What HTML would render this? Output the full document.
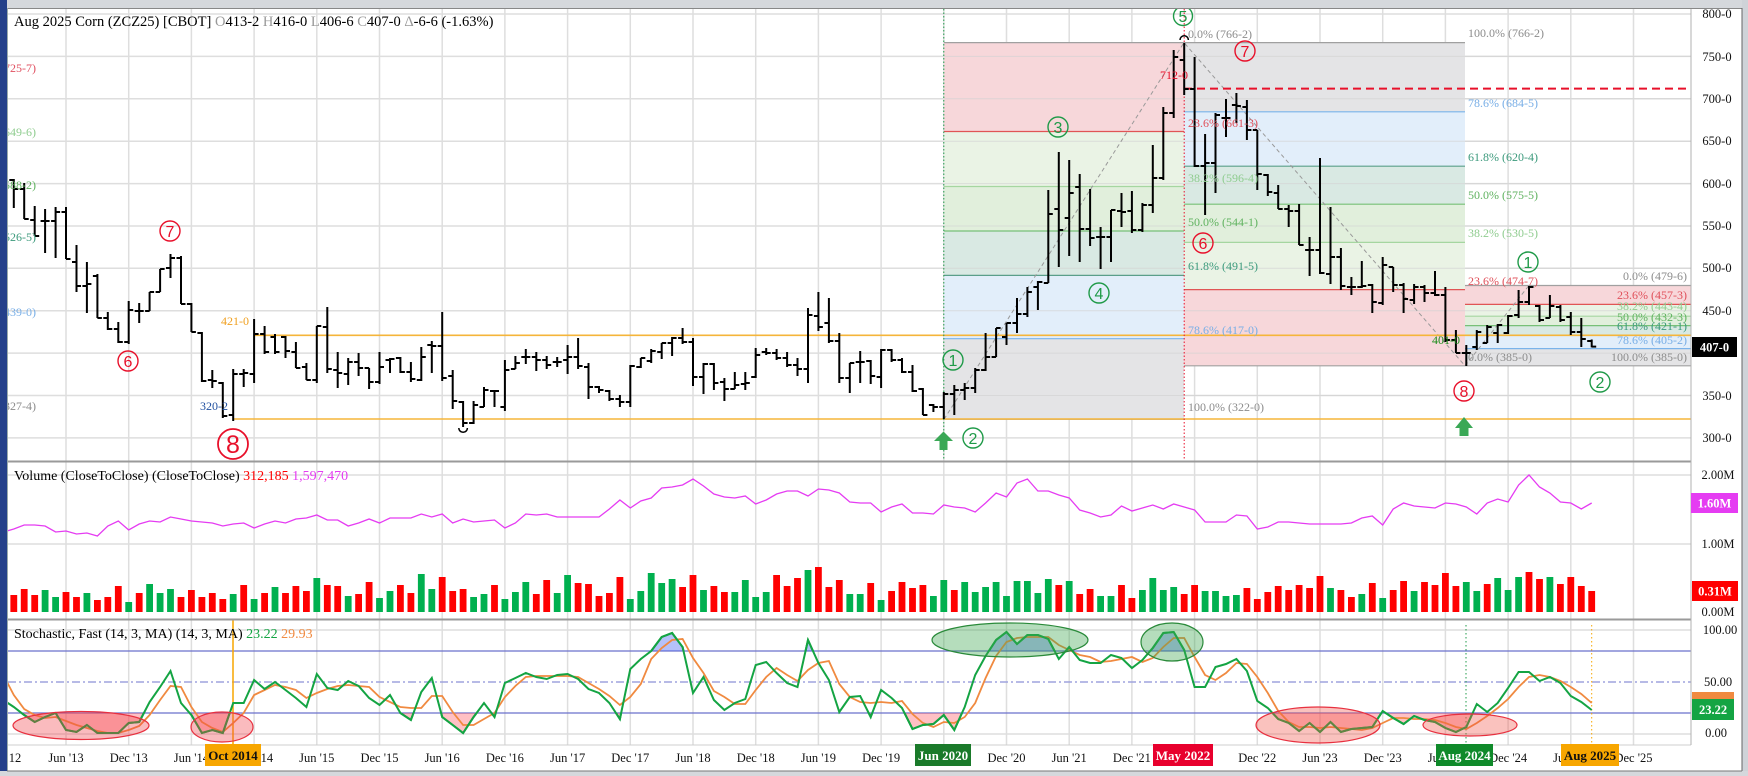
<!DOCTYPE html>
<html><head><meta charset="utf-8"><style>
html,body{margin:0;padding:0;background:#fff;}
svg{display:block;}
text{font-family:"Liberation Serif","DejaVu Serif",serif;}
.ax{font-size:12.5px;fill:#111;text-anchor:middle;}
.fl{font-size:12px;}
.g{fill:#8c8c8c}.r{fill:#e0505a}.lg{fill:#8fcc8f}.gr{fill:#5fb25f}.tl{fill:#3c9a7c}.lb{fill:#78aee6}
.cg circle{fill:none;stroke:#1f9a48;stroke-width:1.4}.cg text{fill:#1f9a48;font-size:16px;text-anchor:middle;font-family:"Liberation Sans",sans-serif}
.cr circle{fill:none;stroke:#e8102a;stroke-width:1.4}.cr text{fill:#e8102a;font-size:16px;text-anchor:middle;font-family:"Liberation Sans",sans-serif}
.bx{font-size:13px;font-weight:bold;text-anchor:middle;}
</style></head><body>
<svg width="1748" height="776" viewBox="0 0 1748 776" xmlns="http://www.w3.org/2000/svg">
<defs>
<clipPath id="cp"><rect x="8" y="9" width="1683" height="452"/></clipPath>
<clipPath id="cv"><rect x="8" y="462" width="1683" height="157"/></clipPath>
<clipPath id="cs"><rect x="8" y="620" width="1683" height="125"/></clipPath>
<clipPath id="cred"><rect x="8" y="713" width="1683" height="32"/></clipPath>
<clipPath id="cblue"><rect x="8" y="620" width="1683" height="31"/></clipPath>
</defs>
<rect x="0" y="0" width="1748" height="776" fill="#fff"/>

<!-- grid -->
<g stroke="#dedede" stroke-width="1.5">
<path d="M66 9V745M128.7 9V745M191.4 9V745M254.1 9V745M316.8 9V745M379.5 9V745M442.2 9V745M504.9 9V745M567.6 9V745M630.3 9V745M693 9V745M755.7 9V745M818.4 9V745M881.1 9V745M943.8 9V745M1006.5 9V745M1069.2 9V745M1131.9 9V745M1194.6 9V745M1257.3 9V745M1320 9V745M1382.7 9V745M1445.4 9V745M1508.1 9V745M1570.8 9V745M1633.5 9V745"/>
<path d="M8 14H1691M8 56.4H1691M8 98.8H1691M8 141.2H1691M8 183.6H1691M8 226H1691M8 268.3H1691M8 310.7H1691M8 353.1H1691M8 395.5H1691M8 437.9H1691M8 475H1691M8 544H1691M8 630H1691M8 734H1691"/>
</g>

<!-- price panel -->
<g clip-path="url(#cp)">
<!-- Fib A -->
<rect x="944" y="42.6" width="240" height="89" fill="#f7d7da"/>
<rect x="944" y="131.5" width="240" height="55" fill="#eaf3e5"/>
<rect x="944" y="186.5" width="240" height="44.5" fill="#e1efdc"/>
<rect x="944" y="231" width="240" height="44.4" fill="#d9e9e3"/>
<rect x="944" y="275.4" width="240" height="63.3" fill="#e2eefa"/>
<rect x="944" y="338.7" width="240" height="80.6" fill="#e4e4e6"/>
<!-- Fib B -->
<rect x="1184" y="42.6" width="281" height="69.2" fill="#e4e4e6"/>
<rect x="1184" y="111.8" width="281" height="54.4" fill="#e2eefa"/>
<rect x="1184" y="166.2" width="281" height="38" fill="#d9e9e3"/>
<rect x="1184" y="204.2" width="281" height="38.2" fill="#e1efdc"/>
<rect x="1184" y="242.4" width="281" height="47.2" fill="#eaf3e5"/>
<rect x="1184" y="289.6" width="281" height="76.2" fill="#f7d7da"/>
<!-- Fib C -->
<rect x="1465" y="285.5" width="226" height="18.9" fill="#f7d7da"/>
<rect x="1465" y="304.4" width="226" height="11.8" fill="#eaf3e5"/>
<rect x="1465" y="316.2" width="226" height="9.4" fill="#e1efdc"/>
<rect x="1465" y="325.6" width="226" height="9.6" fill="#d9e9e3"/>
<rect x="1465" y="335.2" width="226" height="13.4" fill="#e2eefa"/>
<rect x="1465" y="348.6" width="226" height="17.2" fill="#e4e4e6"/>
<!-- horizontal grid re-drawn over fills faintly -->
<g stroke="#d4d4d4" stroke-width="1" opacity="0.7"><path d="M944 56.4H1691M944 98.8H1691M944 141.2H1691M944 183.6H1691M944 226H1691M944 268.3H1691M944 310.7H1691M944 353.1H1691M944 395.5H1691"/></g>
<!-- fib lines -->
<g stroke-width="1.2" fill="none">
<path d="M944 42.6H1465" stroke="#a0a0a0"/>
<path d="M944 131.5H1184" stroke="#e05555"/>
<path d="M944 186.5H1184" stroke="#a5d6a0"/>
<path d="M944 231H1184" stroke="#77c077"/>
<path d="M944 275.4H1184" stroke="#5a9f8a"/>
<path d="M944 338.7H1184" stroke="#7ab3ea"/>
<path d="M944 419.3H1184" stroke="#a0a0a0"/>
<path d="M1184 111.8H1465" stroke="#7ab3ea"/>
<path d="M1184 166.2H1465" stroke="#5a9f8a"/>
<path d="M1184 204.2H1465" stroke="#77c077"/>
<path d="M1184 242.4H1465" stroke="#a5d6a0"/>
<path d="M1184 289.6H1465" stroke="#e05555"/>
<path d="M1184 365.8H1691" stroke="#a0a0a0"/>
<path d="M1465 285.5H1691" stroke="#a0a0a0"/>
<path d="M1465 304.4H1691" stroke="#e05555"/>
<path d="M1465 316.2H1691" stroke="#a5d6a0"/>
<path d="M1465 325.6H1691" stroke="#77c077"/>
<path d="M1465 335.2H1691" stroke="#5a9f8a"/>
<path d="M1465 348.6H1691" stroke="#7ab3ea"/>
</g>
<!-- diagonals -->
<path d="M944 419.3L1184 42.6L1465 365.8L1529 285.5" stroke="#999" stroke-width="1" stroke-dasharray="4,3" fill="none"/>
<!-- orange support lines -->
<path d="M254 335.3H1691" stroke="#f5b53a" stroke-width="1.6"/>
<path d="M233 419H1691" stroke="#f5b53a" stroke-width="1.6"/>
<!-- red dashed 712 -->
<path d="M1184 88.6H1691" stroke="#e8102a" stroke-width="2" stroke-dasharray="8,5"/>
<!-- vertical markers -->
<path d="M943.8 9V461" stroke="#1f9a48" stroke-width="1" stroke-dasharray="1.5,2"/>
<path d="M1184.2 9V461" stroke="#e8102a" stroke-width="1" stroke-dasharray="1.5,2"/>

<!-- price bars -->
<path fill="none" stroke="#000" stroke-width="2" d="
M13.8 179V208M9.3 180h4.5M13.8 189h4.5
M24.2 183V219M19.7 189h4.5M24.2 219h4.5
M34.7 206V236M30.2 220h4.5M34.7 236h4.5
M45.1 209V253M40.6 221h4.5M45.1 221h4.5
M55.6 207V258M51.1 221h4.5M55.6 212h4.5
M66 207V259M61.5 212h4.5M66 259h4.5
M76.5 245V292M72 262h4.5M76.5 286h4.5
M86.9 262V313M82.4 286h4.5M86.9 284h4.5
M97.4 274V318M92.9 276h4.5M97.4 318h4.5
M107.8 312V330M103.3 318h4.5M107.8 329h4.5
M118.3 322V343M113.8 329h4.5M118.3 342h4.5
M128.7 301V344M124.2 342h4.5M128.7 310h4.5
M139.2 303V323M134.7 311h4.5M139.2 311h4.5
M149.6 292V311M145.1 311h4.5M149.6 292h4.5
M160.1 269V292M155.6 292h4.5M160.1 269h4.5
M170.5 254V278M166 268h4.5M170.5 258h4.5
M181 256V304M176.5 258h4.5M181 304h4.5
M191.4 303V332M186.9 304h4.5M191.4 332h4.5
M201.9 332V382M197.4 333h4.5M201.9 381h4.5
M212.3 370V388M207.8 380h4.5M212.3 381h4.5
M222.8 382V418M218.3 383h4.5M222.8 416h4.5
M233.2 369V421M228.7 415h4.5M233.2 374h4.5
M243.7 369V387M239.2 374h4.5M243.7 373h4.5
M254.1 319V383M249.6 374h4.5M254.1 334h4.5
M264.6 326V354M260.1 334h4.5M264.6 352h4.5
M275 334V354M270.5 337h4.5M275 352h4.5
M285.5 336V358M281 337h4.5M285.5 351h4.5
M295.9 342V368M291.4 352h4.5M295.9 368h4.5
M306.4 363V380M301.9 367h4.5M306.4 380h4.5
M316.8 326V383M312.3 380h4.5M316.8 326h4.5
M327.3 307V373M322.8 327h4.5M327.3 369h4.5
M337.7 352V388M333.2 370h4.5M337.7 373h4.5
M348.2 358V385M343.7 374h4.5M348.2 362h4.5
M358.6 353V376M354.1 362h4.5M358.6 368h4.5
M369.1 368V389M364.6 368h4.5M369.1 382h4.5
M379.5 352V384M375 382h4.5M379.5 367h4.5
M390 358V373M385.5 360h4.5M390 359h4.5
M400.4 357V373M395.9 358h4.5M400.4 372h4.5
M410.9 362V382M406.4 372h4.5M410.9 379h4.5
M421.3 347V381M416.8 380h4.5M421.3 357h4.5
M431.8 341V373M427.3 345h4.5M431.8 346h4.5
M442.2 312V381M437.7 346h4.5M442.2 378h4.5
M452.7 370V409M448.2 376h4.5M452.7 401h4.5
M463.1 401V427M458.6 402h4.5M463.1 423h4.5
M473.6 401V424M469.1 423h4.5M473.6 405h4.5
M484 387V407M479.5 407h4.5M484 390h4.5
M494.5 390V407M490 391h4.5M494.5 391h4.5
M504.9 360V411M500.4 407h4.5M504.9 370h4.5
M515.4 356V369M510.9 369h4.5M515.4 363h4.5
M525.8 349V364M521.3 357h4.5M525.8 357h4.5
M536.3 352V371M531.8 357h4.5M536.3 360h4.5
M546.7 356V369M542.2 360h4.5M546.7 365h4.5
M557.2 357V367M552.7 362h4.5M557.2 362h4.5
M567.6 345V374M563.1 360h4.5M567.6 357h4.5
M578.1 338V369M573.6 357h4.5M578.1 366h4.5
M588.5 363V399M584 367h4.5M588.5 387h4.5
M599 386V393M594.5 387h4.5M599 390h4.5
M609.4 390V401M604.9 391h4.5M609.4 399h4.5
M619.9 395V407M615.4 399h4.5M619.9 402h4.5
M630.3 365V407M625.8 402h4.5M630.3 366h4.5
M640.8 358V368M636.3 367h4.5M640.8 358h4.5
M651.2 349V363M646.7 361h4.5M651.2 351h4.5
M661.7 343V359M657.2 352h4.5M661.7 343h4.5
M672.1 337V356M667.6 343h4.5M672.1 338h4.5
M682.6 328V344M678.1 338h4.5M682.6 342h4.5
M693 338V386M688.5 342h4.5M693 377h4.5
M703.5 363V394M699 377h4.5M703.5 364h4.5
M713.9 363V390M709.4 364h4.5M713.9 383h4.5
M724.4 378V401M719.9 382h4.5M724.4 389h4.5
M734.8 372V389M730.3 389h4.5M734.8 385h4.5
M745.3 372V390M740.8 384h4.5M745.3 383h4.5
M755.7 348V378M751.2 377h4.5M755.7 355h4.5
M766.2 348V355M761.7 352h4.5M766.2 353h4.5
M776.6 349V360M772.1 353h4.5M776.6 358h4.5
M787.1 352V367M782.6 358h4.5M787.1 365h4.5
M797.5 358V376M793 365h4.5M797.5 369h4.5
M808 308V383M803.5 369h4.5M808 315h4.5
M818.4 292V331M813.9 316h4.5M818.4 327h4.5
M828.9 298V343M824.4 323h4.5M828.9 341h4.5
M839.3 333V383M834.8 341h4.5M839.3 378h4.5
M849.8 363V393M845.3 378h4.5M849.8 363h4.5
M860.2 351V383M855.7 362h4.5M860.2 362h4.5
M870.7 360V384M866.2 361h4.5M870.7 376h4.5
M881.1 349V388M876.6 377h4.5M881.1 350h4.5
M891.6 349V362M887.1 350h4.5M891.6 360h4.5
M902 358V373M897.5 360h4.5M902 372h4.5
M912.5 365V392M908 372h4.5M912.5 391h4.5
M922.9 388V415M918.4 389h4.5M922.9 415h4.5
M933.4 404V412M928.9 405h4.5M933.4 407h4.5
M943.8 392V419M939.3 407h4.5M943.8 394h4.5
M954.3 385V415M949.8 394h4.5M954.3 390h4.5
M964.7 383V400M960.2 390h4.5M964.7 388h4.5
M975.2 368V393M970.7 388h4.5M975.2 370h4.5
M985.6 333V371M981.1 370h4.5M985.6 357h4.5
M996.1 328V357M991.6 357h4.5M996.1 328h4.5
M1006.5 323V345M1002 337h4.5M1006.5 323h4.5
M1017 298V333M1012.5 323h4.5M1017 314h4.5
M1027.4 287V317M1022.9 314h4.5M1027.4 292h4.5
M1037.9 281V310M1033.4 287h4.5M1037.9 282h4.5
M1048.3 190V283M1043.8 283h4.5M1048.3 214h4.5
M1058.8 152V267M1054.3 209h4.5M1058.8 230h4.5
M1069.2 160V256M1064.7 218h4.5M1069.2 193h4.5
M1079.7 174V262M1075.2 187h4.5M1079.7 229h4.5
M1090.1 189V246M1085.6 229h4.5M1090.1 238h4.5
M1100.6 227V269M1096.1 237h4.5M1100.6 237h4.5
M1111 210V262M1106.5 237h4.5M1111 210h4.5
M1121.5 193V227M1117 211h4.5M1121.5 212h4.5
M1131.9 191V233M1127.4 211h4.5M1131.9 230h4.5
M1142.4 203V232M1137.9 230h4.5M1142.4 205h4.5
M1152.8 145V213M1148.3 205h4.5M1152.8 178h4.5
M1163.3 107V180M1158.8 178h4.5M1163.3 113h4.5
M1173.7 50V118M1169.2 113h4.5M1173.7 57h4.5
M1184.2 43V95M1179.7 60h4.5M1184.2 89h4.5
M1194.6 57V167M1190.1 89h4.5M1194.6 166h4.5
M1205.1 134V215M1200.6 166h4.5M1205.1 163h4.5
M1215.5 113V193M1211 163h4.5M1215.5 115h4.5
M1226 99V137M1221.5 118h4.5M1226 118h4.5
M1236.4 93V123M1231.9 105h4.5M1236.4 106h4.5
M1246.9 100V140M1242.4 107h4.5M1246.9 130h4.5
M1257.3 130V190M1252.8 130h4.5M1257.3 174h4.5
M1267.8 174V196M1263.3 175h4.5M1267.8 192h4.5
M1278.2 185V209M1273.7 193h4.5M1278.2 209h4.5
M1288.7 205V227M1284.2 209h4.5M1288.7 211h4.5
M1299.1 204V245M1294.6 211h4.5M1299.1 245h4.5
M1309.6 237V276M1305.1 250h4.5M1309.6 250h4.5
M1320 158V274M1315.5 250h4.5M1320 273h4.5
M1330.5 207V284M1326 274h4.5M1330.5 257h4.5
M1340.9 248V290M1336.4 257h4.5M1340.9 286h4.5
M1351.4 277V295M1346.9 287h4.5M1351.4 287h4.5
M1361.8 261V288M1357.3 287h4.5M1361.8 286h4.5
M1372.3 284V313M1367.8 285h4.5M1372.3 302h4.5
M1382.7 257V305M1378.2 303h4.5M1382.7 265h4.5
M1393.2 267V292M1388.7 267h4.5M1393.2 285h4.5
M1403.6 283V313M1399.1 285h4.5M1403.6 299h4.5
M1414.1 284V304M1409.6 300h4.5M1414.1 287h4.5
M1424.5 285V302M1420 287h4.5M1424.5 293h4.5
M1435 271V296M1430.5 293h4.5M1435 295h4.5
M1445.4 287V342M1440.9 295h4.5M1445.4 340h4.5
M1455.9 330V353M1451.4 340h4.5M1455.9 353h4.5
M1466.3 345V366M1461.8 353h4.5M1466.3 353h4.5
M1476.8 330V350M1472.3 347h4.5M1476.8 332h4.5
M1487.2 325V343M1482.7 343h4.5M1487.2 327h4.5
M1497.7 324V343M1493.2 333h4.5M1497.7 325h4.5
M1508.1 315V334M1503.6 333h4.5M1508.1 316h4.5
M1518.6 290V318M1514.1 315h4.5M1518.6 302h4.5
M1529 286V305M1524.5 302h4.5M1529 287h4.5
M1539.5 305V322M1535 306h4.5M1539.5 320h4.5
M1549.9 295V318M1545.4 318h4.5M1549.9 306h4.5
M1560.4 305V322M1555.9 307h4.5M1560.4 320h4.5
M1570.8 312V335M1566.3 317h4.5M1570.8 332h4.5
M1581.3 318V347M1576.8 332h4.5M1581.3 339h4.5
M1591.7 339.5V347.4M1587.2 341h4.5M1591.7 346.6h4.5"/>
<path d="M1180 40A4.2 4.2 0 0 1 1188.4 40" fill="none" stroke="#000" stroke-width="1.5"/>
<path d="M458.8 428A4.3 4.3 0 0 0 467.4 428" fill="none" stroke="#000" stroke-width="1.5"/>

<!-- left partial labels -->
<g class="fl" text-anchor="end">
<text x="36" y="72" fill="#e05060">(725-7)</text>
<text x="36" y="136" class="lg">(649-6)</text>
<text x="36" y="189" class="gr">(588-2)</text>
<text x="36" y="241" class="tl">(526-5)</text>
<text x="36" y="316" class="lb">(439-0)</text>
<text x="36" y="410" class="g">(327-4)</text>
</g>

<!-- fib labels -->
<g class="fl">
<text x="1188" y="38" class="g">0.0% (766-2)</text>
<text x="1188" y="127" class="r">23.6% (661-3)</text>
<text x="1188" y="182" class="lg">38.2% (596-4)</text>
<text x="1188" y="226" class="gr">50.0% (544-1)</text>
<text x="1188" y="270" class="tl">61.8% (491-5)</text>
<text x="1188" y="334" class="lb">78.6% (417-0)</text>
<text x="1188" y="411" class="g">100.0% (322-0)</text>
<text x="1468" y="37" class="g">100.0% (766-2)</text>
<text x="1468" y="107" class="lb">78.6% (684-5)</text>
<text x="1468" y="161" class="tl">61.8% (620-4)</text>
<text x="1468" y="199" class="gr">50.0% (575-5)</text>
<text x="1468" y="237" class="lg">38.2% (530-5)</text>
<text x="1468" y="285" class="r">23.6% (474-7)</text>
<text x="1468" y="361" class="g">0.0% (385-0)</text>
</g>
<g class="fl" text-anchor="end">
<text x="1687" y="280" class="g">0.0% (479-6)</text>
<text x="1687" y="299" class="r">23.6% (457-3)</text>
<text x="1687" y="310" class="lg">38.2% (443-4)</text>
<text x="1687" y="321" class="gr">50.0% (432-3)</text>
<text x="1687" y="330" class="tl">61.8% (421-1)</text>
<text x="1687" y="344" class="lb">78.6% (405-2)</text>
<text x="1687" y="361" class="g">100.0% (385-0)</text>
</g>
<text x="221" y="325" class="fl" fill="#f0a020">421-0</text>
<text x="200" y="410" class="fl" fill="#2050a0">320-2</text>
<text x="1160" y="79" class="fl" fill="#e8102a">712-0</text>
<text x="1432" y="344" class="fl" fill="#1a8c1a">401-0</text>

<!-- arrows -->
<path d="M934 441L943.5 431.5L953 441H947.5V450H939.5V441Z" fill="#3aa856"/>
<path d="M1455 428L1464 417L1473 428H1468.5V436H1459.5V428Z" fill="#3aa856"/>

<!-- circled numbers -->
<g class="cg"><circle cx="1183" cy="16" r="9.5"/><text x="1183" y="22">5</text></g>
<g class="cr"><circle cx="1245" cy="51" r="10"/><text x="1245" y="57">7</text></g>
<g class="cg"><circle cx="1058" cy="127" r="10"/><text x="1058" y="133">3</text></g>
<g class="cr"><circle cx="1203" cy="243" r="10"/><text x="1203" y="249">6</text></g>
<g class="cg"><circle cx="1099" cy="293" r="10"/><text x="1099" y="299">4</text></g>
<g class="cg"><circle cx="953" cy="360" r="10"/><text x="953" y="366">1</text></g>
<g class="cg"><circle cx="973" cy="438" r="10"/><text x="973" y="444">2</text></g>
<g class="cg"><circle cx="1528" cy="262" r="10"/><text x="1528" y="268">1</text></g>
<g class="cg"><circle cx="1600" cy="382" r="10"/><text x="1600" y="388">2</text></g>
<g class="cr"><circle cx="1464" cy="391" r="10"/><text x="1464" y="397">8</text></g>
<g class="cr"><circle cx="170" cy="231" r="10"/><text x="170" y="237">7</text></g>
<g class="cr"><circle cx="128" cy="361" r="10"/><text x="128" y="367">6</text></g>
<g class="cr"><circle cx="233" cy="444" r="15" style="stroke-width:1.8"/><text x="233" y="453" style="font-size:25px">8</text></g>
</g>

<!-- volume panel -->
<g clip-path="url(#cv)">
<path fill="#ff0000" d="M10.4 595h6.8V612h-6.8ZM20.8 589h6.8V612h-6.8ZM31.3 595h6.8V612h-6.8ZM62.6 592h6.8V612h-6.8ZM73.1 597h6.8V612h-6.8ZM94 600h6.8V612h-6.8ZM104.4 597h6.8V612h-6.8ZM114.9 586h6.8V612h-6.8ZM135.8 593h6.8V612h-6.8ZM177.6 597h6.8V612h-6.8ZM188 590h6.8V612h-6.8ZM198.5 597h6.8V612h-6.8ZM208.9 593h6.8V612h-6.8ZM219.4 599h6.8V612h-6.8ZM240.3 585h6.8V612h-6.8ZM261.2 593h6.8V612h-6.8ZM282.1 593h6.8V612h-6.8ZM292.5 586h6.8V612h-6.8ZM303 591h6.8V612h-6.8ZM323.9 585h6.8V612h-6.8ZM334.3 586h6.8V612h-6.8ZM355.2 594h6.8V612h-6.8ZM365.7 582h6.8V612h-6.8ZM397 585h6.8V612h-6.8ZM407.5 593h6.8V612h-6.8ZM438.8 577h6.8V612h-6.8ZM449.3 591h6.8V612h-6.8ZM459.7 589h6.8V612h-6.8ZM491.1 585h6.8V612h-6.8ZM532.9 594h6.8V612h-6.8ZM543.3 580h6.8V612h-6.8ZM574.7 583h6.8V612h-6.8ZM585.1 584h6.8V612h-6.8ZM595.6 596h6.8V612h-6.8ZM606 593h6.8V612h-6.8ZM616.5 577h6.8V612h-6.8ZM679.2 587h6.8V612h-6.8ZM689.6 575h6.8V612h-6.8ZM710.5 586h6.8V612h-6.8ZM721 592h6.8V612h-6.8ZM773.2 575h6.8V612h-6.8ZM783.7 586h6.8V612h-6.8ZM794.1 578h6.8V612h-6.8ZM815 567h6.8V612h-6.8ZM825.5 587h6.8V612h-6.8ZM835.9 580h6.8V612h-6.8ZM867.3 583h6.8V612h-6.8ZM888.2 591h6.8V612h-6.8ZM898.6 582h6.8V612h-6.8ZM909.1 588h6.8V612h-6.8ZM919.5 585h6.8V612h-6.8ZM950.9 590h6.8V612h-6.8ZM1055.4 585h6.8V612h-6.8ZM1076.3 594h6.8V612h-6.8ZM1086.7 589h6.8V612h-6.8ZM1118.1 585h6.8V612h-6.8ZM1128.5 598h6.8V612h-6.8ZM1180.8 594h6.8V612h-6.8ZM1191.2 585h6.8V612h-6.8ZM1243.5 588h6.8V612h-6.8ZM1253.9 599h6.8V612h-6.8ZM1264.4 592h6.8V612h-6.8ZM1274.8 586h6.8V612h-6.8ZM1285.3 590h6.8V612h-6.8ZM1295.7 585h6.8V612h-6.8ZM1306.2 588h6.8V612h-6.8ZM1316.6 576h6.8V612h-6.8ZM1337.5 590h6.8V612h-6.8ZM1348 597h6.8V612h-6.8ZM1368.9 583h6.8V612h-6.8ZM1389.8 590h6.8V612h-6.8ZM1400.2 581h6.8V612h-6.8ZM1421.1 582h6.8V612h-6.8ZM1431.6 585h6.8V612h-6.8ZM1442 573h6.8V612h-6.8ZM1452.5 586h6.8V612h-6.8ZM1483.8 584h6.8V612h-6.8ZM1525.6 572h6.8V612h-6.8ZM1536.1 579h6.8V612h-6.8ZM1557 584h6.8V612h-6.8ZM1567.4 577h6.8V612h-6.8ZM1577.9 586h6.8V612h-6.8ZM1588.3 591h6.8V612h-6.8Z"/>
<path fill="#00b04f" d="M41.7 590h6.8V612h-6.8ZM52.2 597h6.8V612h-6.8ZM83.5 593h6.8V612h-6.8ZM125.3 602h6.8V612h-6.8ZM146.2 584h6.8V612h-6.8ZM156.7 593h6.8V612h-6.8ZM167.1 589h6.8V612h-6.8ZM229.8 594h6.8V612h-6.8ZM250.7 599h6.8V612h-6.8ZM271.6 587h6.8V612h-6.8ZM313.4 578h6.8V612h-6.8ZM344.8 596h6.8V612h-6.8ZM376.1 598h6.8V612h-6.8ZM386.6 591h6.8V612h-6.8ZM417.9 574h6.8V612h-6.8ZM428.4 589h6.8V612h-6.8ZM470.2 597h6.8V612h-6.8ZM480.6 594h6.8V612h-6.8ZM501.5 599h6.8V612h-6.8ZM512 592h6.8V612h-6.8ZM522.4 582h6.8V612h-6.8ZM553.8 593h6.8V612h-6.8ZM564.2 575h6.8V612h-6.8ZM626.9 599h6.8V612h-6.8ZM637.4 591h6.8V612h-6.8ZM647.8 573h6.8V612h-6.8ZM658.3 583h6.8V612h-6.8ZM668.7 579h6.8V612h-6.8ZM700.1 590h6.8V612h-6.8ZM731.4 592h6.8V612h-6.8ZM741.9 580h6.8V612h-6.8ZM752.3 597h6.8V612h-6.8ZM762.8 592h6.8V612h-6.8ZM804.6 570h6.8V612h-6.8ZM846.4 594h6.8V612h-6.8ZM856.8 594h6.8V612h-6.8ZM877.7 600h6.8V612h-6.8ZM930 596h6.8V612h-6.8ZM940.4 580h6.8V612h-6.8ZM961.3 582h6.8V612h-6.8ZM971.8 592h6.8V612h-6.8ZM982.2 587h6.8V612h-6.8ZM992.7 582h6.8V612h-6.8ZM1003.1 596h6.8V612h-6.8ZM1013.6 581h6.8V612h-6.8ZM1024 581h6.8V612h-6.8ZM1034.5 593h6.8V612h-6.8ZM1044.9 579h6.8V612h-6.8ZM1065.8 581h6.8V612h-6.8ZM1097.2 596h6.8V612h-6.8ZM1107.6 596h6.8V612h-6.8ZM1139 590h6.8V612h-6.8ZM1149.4 578h6.8V612h-6.8ZM1159.9 590h6.8V612h-6.8ZM1170.3 587h6.8V612h-6.8ZM1201.7 591h6.8V612h-6.8ZM1212.1 591h6.8V612h-6.8ZM1222.6 596h6.8V612h-6.8ZM1233 595h6.8V612h-6.8ZM1327.1 588h6.8V612h-6.8ZM1358.4 594h6.8V612h-6.8ZM1379.3 598h6.8V612h-6.8ZM1410.7 591h6.8V612h-6.8ZM1462.9 582h6.8V612h-6.8ZM1473.4 591h6.8V612h-6.8ZM1494.3 578h6.8V612h-6.8ZM1504.7 590h6.8V612h-6.8ZM1515.2 577h6.8V612h-6.8ZM1546.5 577h6.8V612h-6.8Z"/>
<polyline fill="none" stroke="#e53cf2" stroke-width="1.3" points="3.3,532 13.8,529 24.2,525 34.7,525 45.1,526 55.6,532 66,531 76.5,534 86.9,533 97.4,536 107.8,526 118.3,521 128.7,530 139.2,524 149.6,521 160.1,522 170.5,517 181,519 191.4,521 201.9,522 212.3,523 222.8,526 233.2,524 243.7,523 254.1,528 264.6,524 275,521 285.5,523 295.9,519 306.4,518 316.8,515 327.3,520 337.7,520 348.2,526 358.6,523 369.1,519 379.5,523 390,518 400.4,518 410.9,518 421.3,514 431.8,517 442.2,514 452.7,523 463.1,519 473.6,522 484,521 494.5,520 504.9,528 515.4,523 525.8,514 536.3,515 546.7,514 557.2,517 567.6,517 578.1,517 588.5,517 599,517 609.4,509 619.9,500 630.3,508 640.8,501 651.2,498 661.7,488 672.1,487 682.6,485 693,479 703.5,486 713.9,494 724.4,497 734.8,498 745.3,496 755.7,504 766.2,500 776.6,494 787.1,491 797.5,491 808,496 818.4,489 828.9,490 839.3,493 849.8,502 860.2,503 870.7,503 881.1,512 891.6,507 902,504 912.5,513 922.9,513 933.4,514 943.8,505 954.3,507 964.7,508 975.2,512 985.6,503 996.1,493 1006.5,497 1017,483 1027.4,479 1037.9,491 1048.3,491 1058.8,495 1069.2,498 1079.7,510 1090.1,513 1100.6,517 1111,515 1121.5,506 1131.9,511 1142.4,508 1152.8,505 1163.3,509 1173.7,504 1184.2,507 1194.6,510 1205.1,522 1215.5,522 1226,522 1236.4,515 1246.9,516 1257.3,529 1267.8,527 1278.2,522 1288.7,522 1299.1,523 1309.6,524 1320,524 1330.5,524 1340.9,524 1351.4,523 1361.8,518 1372.3,516 1382.7,525 1393.2,509 1403.6,503 1414.1,506 1424.5,507 1435,508 1445.4,503 1455.9,504 1466.3,507 1476.8,514 1487.2,503 1497.7,499 1508.1,502 1518.6,485 1529,475 1539.5,487 1549.9,493 1560.4,502 1570.8,503 1581.3,509 1591.7,503"/>
</g>

<!-- stochastic panel -->
<g clip-path="url(#cs)">
<path d="M8 651H1691M8 713H1691" stroke="#6b70cc" stroke-width="1.2"/>
<path d="M8 682H1691" stroke="#9fa3dd" stroke-width="1.5" stroke-dasharray="8,3,2,3"/>
<path d="M233 620V745" stroke="#f7a600" stroke-width="1.5"/>
<path d="M1466 625V745" stroke="#1f9a48" stroke-width="1" stroke-dasharray="1.5,2.5"/>
<path d="M1591.7 625V745" stroke="#f7a600" stroke-width="1" stroke-dasharray="1.5,2.5"/>
<polygon id="kfill" clip-path="url(#cred)" fill="rgba(255,90,100,0.38)" points="3.3,713 3.3,700 13.8,707 24.2,715 34.7,722 45.1,717 55.6,713 66,730 76.5,732 86.9,725 97.4,733 107.8,733 118.3,733 128.7,723 139.2,722 149.6,702 160.1,687 170.5,671 181,703 191.4,715 201.9,733 212.3,730 222.8,733 233.2,703 243.7,703 254.1,680 264.6,689 275,682 285.5,690 295.9,698 306.4,707 316.8,674 327.3,688 337.7,690 348.2,681 358.6,686 369.1,698 379.5,705 390,695 400.4,713 410.9,720 421.3,692 431.8,678 442.2,717 452.7,725 463.1,733 473.6,717 484,703 494.5,717 504.9,683 515.4,678 525.8,673 536.3,677 546.7,679 557.2,675 567.6,674 578.1,679 588.5,689 599,693 609.4,703 619.9,719 630.3,669 640.8,659 651.2,651 661.7,637 672.1,633 682.6,647 693,693 703.5,677 713.9,700 724.4,710 734.8,703 745.3,699 755.7,665 766.2,662 776.6,673 787.1,683 797.5,687 808,640 818.4,663 828.9,680 839.3,712 849.8,697 860.2,696 870.7,717 881.1,690 891.6,698 902,708 912.5,729 922.9,725 933.4,724 943.8,715 954.3,730 964.7,707 975.2,675 985.6,656 996.1,640 1006.5,632 1017,644 1027.4,635 1037.9,635 1048.3,639 1058.8,659 1069.2,647 1079.7,660 1090.1,663 1100.6,663 1111,655 1121.5,658 1131.9,668 1142.4,660 1152.8,648 1163.3,633 1173.7,632 1184.2,650 1194.6,687 1205.1,687 1215.5,667 1226,664 1236.4,659 1246.9,671 1257.3,701 1267.8,708 1278.2,719 1288.7,723 1299.1,731 1309.6,723 1320,732 1330.5,722 1340.9,732 1351.4,729 1361.8,728 1372.3,727 1382.7,711 1393.2,718 1403.6,724 1414.1,716 1424.5,720 1435,722 1445.4,728 1455.9,732 1466.3,727 1476.8,704 1487.2,712 1497.7,703 1508.1,688 1518.6,672 1529,672 1539.5,681 1549.9,677 1560.4,683 1570.8,696 1581.3,702 1591.7,710 1591.7,713"/>
<polygon clip-path="url(#cblue)" fill="rgba(70,100,240,0.4)" points="3.3,651 3.3,700 13.8,707 24.2,715 34.7,722 45.1,717 55.6,713 66,730 76.5,732 86.9,725 97.4,733 107.8,733 118.3,733 128.7,723 139.2,722 149.6,702 160.1,687 170.5,671 181,703 191.4,715 201.9,733 212.3,730 222.8,733 233.2,703 243.7,703 254.1,680 264.6,689 275,682 285.5,690 295.9,698 306.4,707 316.8,674 327.3,688 337.7,690 348.2,681 358.6,686 369.1,698 379.5,705 390,695 400.4,713 410.9,720 421.3,692 431.8,678 442.2,717 452.7,725 463.1,733 473.6,717 484,703 494.5,717 504.9,683 515.4,678 525.8,673 536.3,677 546.7,679 557.2,675 567.6,674 578.1,679 588.5,689 599,693 609.4,703 619.9,719 630.3,669 640.8,659 651.2,651 661.7,637 672.1,633 682.6,647 693,693 703.5,677 713.9,700 724.4,710 734.8,703 745.3,699 755.7,665 766.2,662 776.6,673 787.1,683 797.5,687 808,640 818.4,663 828.9,680 839.3,712 849.8,697 860.2,696 870.7,717 881.1,690 891.6,698 902,708 912.5,729 922.9,725 933.4,724 943.8,715 954.3,730 964.7,707 975.2,675 985.6,656 996.1,640 1006.5,632 1017,644 1027.4,635 1037.9,635 1048.3,639 1058.8,659 1069.2,647 1079.7,660 1090.1,663 1100.6,663 1111,655 1121.5,658 1131.9,668 1142.4,660 1152.8,648 1163.3,633 1173.7,632 1184.2,650 1194.6,687 1205.1,687 1215.5,667 1226,664 1236.4,659 1246.9,671 1257.3,701 1267.8,708 1278.2,719 1288.7,723 1299.1,731 1309.6,723 1320,732 1330.5,722 1340.9,732 1351.4,729 1361.8,728 1372.3,727 1382.7,711 1393.2,718 1403.6,724 1414.1,716 1424.5,720 1435,722 1445.4,728 1455.9,732 1466.3,727 1476.8,704 1487.2,712 1497.7,703 1508.1,688 1518.6,672 1529,672 1539.5,681 1549.9,677 1560.4,683 1570.8,696 1581.3,702 1591.7,710 1591.7,651"/>
<polyline fill="none" stroke="#f08a40" stroke-width="1.8" points="3.3,675 13.8,695 24.2,709 34.7,715 45.1,718 55.6,717 66,721 76.5,725 86.9,728 97.4,731 107.8,733 118.3,733 128.7,730 139.2,726 149.6,715 160.1,700 170.5,686 181,687 191.4,707 201.9,722 212.3,728 222.8,732 233.2,723 243.7,713 254.1,695 264.6,690 275,685 285.5,687 295.9,690 306.4,698 316.8,693 327.3,689 337.7,686 348.2,685 358.6,686 369.1,687 379.5,697 390,702 400.4,707 410.9,708 421.3,708 431.8,696 442.2,696 452.7,712 463.1,725 473.6,725 484,719 494.5,713 504.9,697 515.4,686 525.8,677 536.3,676 546.7,676 557.2,676 567.6,676 578.1,677 588.5,683 599,689 609.4,696 619.9,705 630.3,697 640.8,684 651.2,659 661.7,648 672.1,640 682.6,639 693,658 703.5,673 713.9,691 724.4,697 734.8,704 745.3,704 755.7,690 766.2,677 776.6,668 787.1,675 797.5,681 808,670 818.4,663 828.9,661 839.3,684 849.8,697 860.2,702 870.7,703 881.1,702 891.6,703 902,701 912.5,714 922.9,723 933.4,727 943.8,722 954.3,723 964.7,717 975.2,703 985.6,678 996.1,656 1006.5,642 1017,638 1027.4,637 1037.9,637 1048.3,637 1058.8,645 1069.2,650 1079.7,655 1090.1,657 1100.6,662 1111,661 1121.5,659 1131.9,657 1142.4,662 1152.8,658 1163.3,647 1173.7,638 1184.2,638 1194.6,657 1205.1,675 1215.5,680 1226,673 1236.4,663 1246.9,664 1257.3,677 1267.8,693 1278.2,711 1288.7,722 1299.1,727 1309.6,727 1320,728 1330.5,727 1340.9,728 1351.4,729 1361.8,730 1372.3,728 1382.7,723 1393.2,718 1403.6,718 1414.1,719 1424.5,719 1435,720 1445.4,723 1455.9,727 1466.3,729 1476.8,723 1487.2,716 1497.7,708 1508.1,699 1518.6,687 1529,677 1539.5,675 1549.9,677 1560.4,681 1570.8,687 1581.3,694 1591.7,703"/>
<g fill="none" stroke-width="2">
<polyline id="kl" stroke="#14a443" points="3.3,700 13.8,707 24.2,715 34.7,722 45.1,717 55.6,713 66,730 76.5,732 86.9,725 97.4,733 107.8,733 118.3,733 128.7,723 139.2,722 149.6,702 160.1,687 170.5,671 181,703 191.4,715 201.9,733 212.3,730 222.8,733 233.2,703 243.7,703 254.1,680 264.6,689 275,682 285.5,690 295.9,698 306.4,707 316.8,674 327.3,688 337.7,690 348.2,681 358.6,686 369.1,698 379.5,705 390,695 400.4,713 410.9,720 421.3,692 431.8,678 442.2,717 452.7,725 463.1,733 473.6,717 484,703 494.5,717 504.9,683 515.4,678 525.8,673 536.3,677 546.7,679 557.2,675 567.6,674 578.1,679 588.5,689 599,693 609.4,703 619.9,719 630.3,669 640.8,659 651.2,651 661.7,637 672.1,633 682.6,647 693,693 703.5,677 713.9,700 724.4,710 734.8,703 745.3,699 755.7,665 766.2,662 776.6,673 787.1,683 797.5,687 808,640 818.4,663 828.9,680 839.3,712 849.8,697 860.2,696 870.7,717 881.1,690 891.6,698 902,708 912.5,729 922.9,725 933.4,724 943.8,715 954.3,730 964.7,707 975.2,675 985.6,656 996.1,640 1006.5,632 1017,644 1027.4,635 1037.9,635 1048.3,639 1058.8,659 1069.2,647 1079.7,660 1090.1,663 1100.6,663 1111,655 1121.5,658 1131.9,668 1142.4,660 1152.8,648 1163.3,633 1173.7,632 1184.2,650 1194.6,687 1205.1,687 1215.5,667 1226,664 1236.4,659 1246.9,671 1257.3,701 1267.8,708 1278.2,719 1288.7,723 1299.1,731 1309.6,723 1320,732 1330.5,722 1340.9,732 1351.4,729 1361.8,728 1372.3,727 1382.7,711 1393.2,718 1403.6,724 1414.1,716 1424.5,720 1435,722 1445.4,728 1455.9,732 1466.3,727 1476.8,704 1487.2,712 1497.7,703 1508.1,688 1518.6,672 1529,672 1539.5,681 1549.9,677 1560.4,683 1570.8,696 1581.3,702 1591.7,710"/>
<use href="#kl" stroke="#ff1020" clip-path="url(#cred)"/>
<use href="#kl" stroke="#1038e0" clip-path="url(#cblue)"/>
</g>
<!-- ellipses -->
<g stroke-width="1.2">
<ellipse cx="81" cy="725.5" rx="68" ry="14" fill="rgba(240,60,70,0.35)" stroke="#e8303f"/>
<ellipse cx="222" cy="727" rx="31" ry="15" fill="rgba(240,60,70,0.35)" stroke="#e8303f"/>
<ellipse cx="1010" cy="640" rx="78" ry="17" fill="rgba(60,165,80,0.38)" stroke="#2a8a3a"/>
<ellipse cx="1172" cy="642" rx="31" ry="19" fill="rgba(60,165,80,0.38)" stroke="#2a8a3a"/>
<ellipse cx="1318" cy="725" rx="62" ry="18" fill="rgba(240,80,70,0.35)" stroke="#e8303f"/>
<ellipse cx="1470" cy="725" rx="47" ry="11" fill="rgba(240,80,70,0.35)" stroke="#e8303f"/>
</g>
</g>

<!-- panel separators and borders -->
<path d="M8 461.5H1691M8 619.5H1691" stroke="#9a9a9a" stroke-width="2"/>
<path d="M8 745H1691" stroke="#cfcfcf" stroke-width="1"/>
<path d="M1691 9V745" stroke="#b0b0b0" stroke-width="1"/>

<!-- legends -->
<text x="14" y="26" font-size="14.5" fill="#000">Aug 2025 Corn (ZCZ25) [CBOT] <tspan fill="#999">O</tspan>413-2 <tspan fill="#999">H</tspan>416-0 <tspan fill="#999">L</tspan>406-6 <tspan fill="#999">C</tspan>407-0 <tspan fill="#999">Δ</tspan>-6-6 (-1.63%)</text>
<text x="14" y="480" font-size="14" fill="#000">Volume (CloseToClose)  (CloseToClose) <tspan fill="#ff0000">312,185</tspan> <tspan fill="#e53cf2">1,597,470</tspan></text>
<text x="14" y="638" font-size="14" fill="#000">Stochastic, Fast (14, 3, MA)  (14, 3, MA) <tspan fill="#14a443">23.22</tspan> <tspan fill="#f08a40">29.93</tspan></text>

<!-- right axis -->
<g class="ax">
<text x="1717" y="18">800-0</text>
<text x="1717" y="61">750-0</text>
<text x="1717" y="103">700-0</text>
<text x="1717" y="145">650-0</text>
<text x="1717" y="188">600-0</text>
<text x="1717" y="230">550-0</text>
<text x="1717" y="272">500-0</text>
<text x="1717" y="315">450-0</text>
<text x="1717" y="400">350-0</text>
<text x="1717" y="442">300-0</text>
<text x="1718" y="479">2.00M</text>
<text x="1718" y="548">1.00M</text>
<text x="1718" y="616">0.00M</text>
<text x="1720" y="634">100.00</text>
<text x="1718" y="686">50.00</text>
<text x="1716" y="737">0.00</text>
</g>
<rect x="1692" y="337" width="45" height="20" fill="#000"/>
<text x="1714.5" y="351.5" class="bx" fill="#fff" style="font-size:12.5px">407-0</text>
<rect x="1691" y="493" width="47" height="20" fill="#e53cf2"/>
<text x="1714.5" y="507.5" class="bx" fill="#fff" style="font-size:12.5px">1.60M</text>
<rect x="1692" y="581" width="46" height="20" fill="#ff0000"/>
<text x="1715" y="595.5" class="bx" fill="#fff" style="font-size:12.5px">0.31M</text>
<rect x="1692" y="692" width="42" height="9" fill="#f08a40"/>
<rect x="1692" y="699" width="42" height="21" fill="#14a443"/>
<text x="1713" y="714" class="bx" fill="#fff" style="font-size:12.5px">23.22</text>

<!-- x axis labels -->
<g class="ax">
<text x="15" y="762">12</text>
<text x="66" y="762">Jun '13</text>
<text x="128.7" y="762">Dec '13</text>
<text x="191.4" y="762">Jun '14</text>
<text x="254.1" y="762">Dec '14</text>
<text x="316.8" y="762">Jun '15</text>
<text x="379.5" y="762">Dec '15</text>
<text x="442.2" y="762">Jun '16</text>
<text x="504.9" y="762">Dec '16</text>
<text x="567.6" y="762">Jun '17</text>
<text x="630.3" y="762">Dec '17</text>
<text x="693" y="762">Jun '18</text>
<text x="755.7" y="762">Dec '18</text>
<text x="818.4" y="762">Jun '19</text>
<text x="881.1" y="762">Dec '19</text>
<text x="1006.5" y="762">Dec '20</text>
<text x="1069.2" y="762">Jun '21</text>
<text x="1131.9" y="762">Dec '21</text>
<text x="1257.3" y="762">Dec '22</text>
<text x="1320" y="762">Jun '23</text>
<text x="1382.7" y="762">Dec '23</text>
<text x="1445.4" y="762">Jun '24</text>
<text x="1508.1" y="762">Dec '24</text>
<text x="1570.8" y="762">Jun '25</text>
<text x="1633.5" y="762">Dec '25</text>
</g>
<rect x="205" y="744" width="56" height="22" fill="#f7a600"/>
<text x="233" y="760" class="bx" fill="#111">Oct 2014</text>
<rect x="915" y="744" width="56" height="22" fill="#1a7a2a"/>
<text x="943" y="760" class="bx" fill="#fff">Jun 2020</text>
<rect x="1153" y="744" width="60" height="22" fill="#e8002d"/>
<text x="1183" y="760" class="bx" fill="#fff">May 2022</text>
<rect x="1436" y="744" width="57" height="22" fill="#0f8a2a"/>
<text x="1464.5" y="760" class="bx" fill="#fff">Aug 2024</text>
<rect x="1561" y="744" width="58" height="22" fill="#f7a600"/>
<text x="1590" y="760" class="bx" fill="#111">Aug 2025</text>

<!-- frame -->
<rect x="0" y="0" width="1748" height="8" fill="#d5d8dc"/>
<path d="M0 8.5H1748" stroke="#888" stroke-width="1"/>
<rect x="0" y="0" width="7" height="776" fill="#24408a"/>
<path d="M7.5 8V771" stroke="#9aa" stroke-width="1"/>
<rect x="1742" y="0" width="6" height="776" fill="#cfd3d8"/>
<path d="M1742 8V771" stroke="#666" stroke-width="1"/>
<rect x="0" y="771" width="1748" height="5" fill="#d5d8dc"/>
<path d="M7 771H1742" stroke="#777" stroke-width="1"/>
</svg>
</body></html>
